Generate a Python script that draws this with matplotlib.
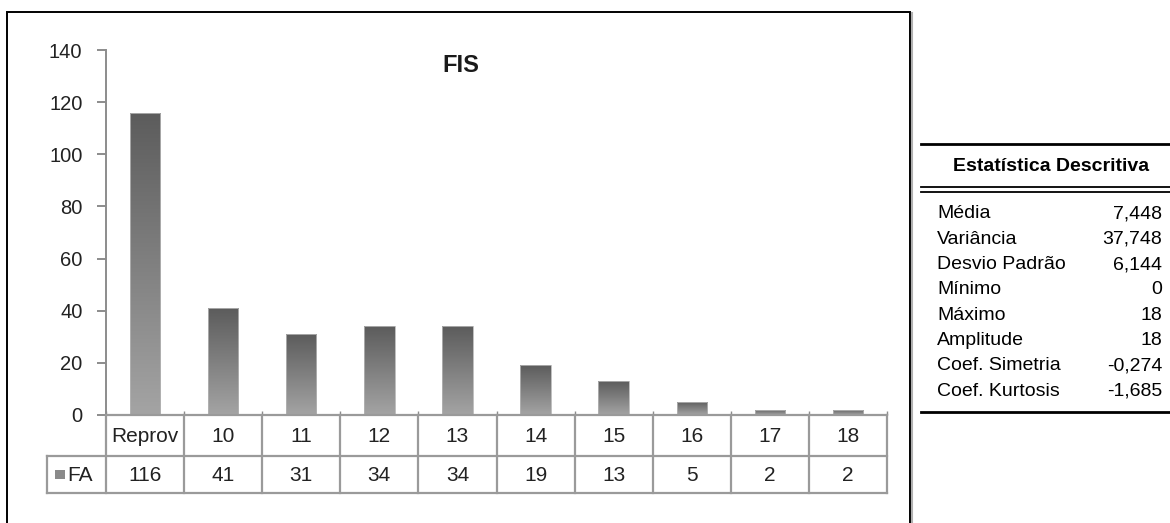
import numpy as np
import matplotlib.pyplot as plt
from matplotlib.patches import Rectangle
from matplotlib.lines import Line2D
from matplotlib.colors import LinearSegmentedColormap

# frequency of final grades
categories = ['Reprov', '10', '11', '12', '13', '14', '15', '16', '17', '18']
fa_values = [116, 41, 31, 34, 34, 19, 13, 5, 2, 2]
y_ticks = [0, 20, 40, 60, 80, 100, 120, 140]

# descriptive statistics
stat_names = ['Média', 'Variância', 'Desvio Padrão', 'Mínimo', 'Máximo',
              'Amplitude', 'Coef. Simetria', 'Coef. Kurtosis']
stat_values = ['7,448', '37,748', '6,144', '0', '18', '18', '-0,274', '-1,685']

plt.rcParams['font.family'] = ['Liberation Sans', 'DejaVu Sans']

W, H = 1170, 523
fig = plt.figure(figsize=(W / 100, H / 100), dpi=100)


def fx(px):
    return px / W


def fy(py):
    return 1 - py / H


# outer frame around the chart, with a light shadow on the right side
fig.add_artist(Line2D([fx(911.8), fx(911.8)], [fy(13), fy(523)], color='#b0b0b0', lw=1.5))
fig.add_artist(Rectangle((fx(7), fy(540)), fx(910) - fx(7), fy(12) - fy(540),
                         transform=fig.transFigure, fill=False,
                         edgecolor='black', lw=1.4))

# chart axes
x0, x1, y_top, y_zero = 106, 887, 50, 415
ax = fig.add_axes([fx(x0), fy(y_zero), fx(x1) - fx(x0), fy(y_top) - fy(y_zero)])
n = len(categories)
x = np.arange(n)

bar_cmap = LinearSegmentedColormap.from_list('bar', ['#a4a4a4', '#5c5c5c'])
grad = np.linspace(0, 1, 256).reshape(-1, 1)
bars = ax.bar(x, fa_values, width=0.39, facecolor='none', edgecolor='#b4b4b4', lw=0.6)
for b in bars:
    im = ax.imshow(grad, extent=[b.get_x(), b.get_x() + b.get_width(), 0, b.get_height()],
                   origin='lower', cmap=bar_cmap, aspect='auto', interpolation='bilinear')
    im.set_clip_path(b)
ax.set_xlim(-0.5, n - 0.5)
ax.set_ylim(0, 140)

for s in ['top', 'right', 'bottom']:
    ax.spines[s].set_visible(False)
ax.spines['left'].set_color('#8c8c8c')
ax.spines['left'].set_linewidth(1.4)
ax.set_yticks(y_ticks)
ax.tick_params(axis='y', direction='out', length=6.5, width=1.4, color='#8c8c8c',
               labelsize=14.5, labelcolor='#222222', pad=10.5)
ax.set_xticks(np.arange(n + 1) - 0.5)
ax.set_xticklabels([])
ax.tick_params(axis='x', direction='in', length=3, width=1, color='#8c8c8c')

ax.text(0.454, 0.958, 'FIS', transform=ax.transAxes, ha='center', va='center',
        fontsize=17, fontweight='bold', color='#1a1a1a')

# data table under the chart
row1, row2 = 456, 493
tab = fig.add_axes([fx(x0), fy(row2), fx(x1) - fx(x0), fy(y_zero) - fy(row2)])
tab.set_xlim(-0.5, n - 0.5)
tab.set_ylim(row2, y_zero)
tab.axis('off')
leg_w = (x0 - 47) / ((x1 - x0) / n)
lc = '#9a9a9a'
lw = 1.6
tab.plot([-0.5, n - 0.5], [y_zero, y_zero], color=lc, lw=lw, clip_on=False)
tab.plot([-0.5 - leg_w, n - 0.5], [row1, row1], color=lc, lw=lw, clip_on=False)
tab.plot([-0.5 - leg_w, n - 0.5], [row2, row2], color=lc, lw=lw, clip_on=False)
tab.plot([-0.5 - leg_w, -0.5 - leg_w], [row1, row2], color=lc, lw=lw, clip_on=False)
for e in np.arange(n + 1) - 0.5:
    tab.plot([e, e], [y_zero, row2], color=lc, lw=lw, clip_on=False)
for i in range(n):
    tab.text(x[i], (y_zero + row1) / 2 + 1, categories[i], ha='center', va='center',
             fontsize=15, color='#222222')
    tab.text(x[i], (row1 + row2) / 2 + 1, str(fa_values[i]), ha='center', va='center',
             fontsize=15, color='#222222')
tab.add_patch(Rectangle((-0.5 - leg_w * 0.86, (row1 + row2) / 2 - 5), leg_w * 0.17, 9,
                        facecolor='#8a8a8a', edgecolor='none', clip_on=False))
tab.text(-0.5 - leg_w * 0.66, (row1 + row2) / 2 + 1, 'FA', ha='left', va='center',
         fontsize=15, color='#222222')

# descriptive statistics table
tx0, tx1 = 921, 1170
fig.add_artist(Line2D([fx(tx0), fx(tx1)], [fy(144), fy(144)], color='black', lw=2))
fig.add_artist(Line2D([fx(tx0), fx(tx1)], [fy(187), fy(187)], color='black', lw=1.3))
fig.add_artist(Line2D([fx(tx0), fx(tx1)], [fy(192), fy(192)], color='black', lw=1.3))
fig.add_artist(Line2D([fx(tx0), fx(tx1)], [fy(412), fy(412)], color='black', lw=2))
fig.text(fx(1051), fy(166), 'Estatística Descritiva', ha='center',
         va='center', fontsize=14, fontweight='bold', color='black')
for i, (name, val) in enumerate(zip(stat_names, stat_values)):
    yy = fy(214 + i * 25.3)
    fig.text(fx(937), yy, name, ha='left', va='center', fontsize=14)
    fig.text(fx(1162), yy, val, ha='right', va='center', fontsize=14)

fig.savefig('out.png', dpi=100)
